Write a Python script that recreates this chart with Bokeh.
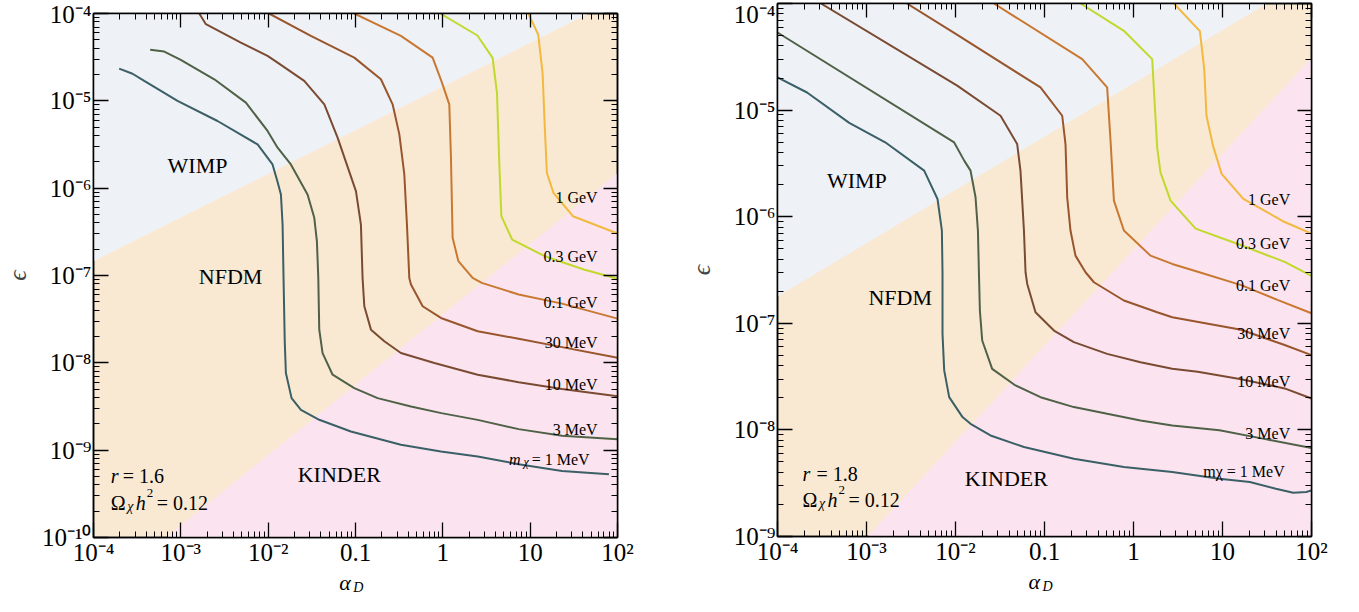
import math
from bokeh.plotting import figure
from bokeh.models import FixedTicker, LogAxis, Label, Range1d, CustomJSTickFormatter
from bokeh.layouts import row, column
from bokeh.embed import file_html
from bokeh.resources import INLINE

FONT = "Liberation Serif"

# ---------------- ticks ----------------
x_ticks = [1e-4, 1e-3, 1e-2, 1e-1, 1.0, 10.0, 100.0]
x_tick_labels = ["10⁻⁴", "10⁻³", "10⁻²", "0.1", "1", "10", "10²"]
yL_ticks = [1e-10, 1e-9, 1e-8, 1e-7, 1e-6, 1e-5, 1e-4]
yL_tick_labels = ["10⁻¹⁰", "10⁻⁹", "10⁻⁸", "10⁻⁷", "10⁻⁶", "10⁻⁵", "10⁻⁴"]
yR_ticks = [1e-9, 1e-8, 1e-7, 1e-6, 1e-5, 1e-4]
yR_tick_labels = ["10⁻⁹", "10⁻⁸", "10⁻⁷", "10⁻⁶", "10⁻⁵", "10⁻⁴"]

mass_labels = ["1 MeV", "3 MeV", "10 MeV", "30 MeV", "0.1 GeV", "0.3 GeV", "1 GeV"]
mass_colors = ["#3b5f66", "#4f6147", "#7a4b32", "#99552c", "#c97831", "#c0d92c", "#f3b83e"]

# region colours
c_wimp, c_nfdm, c_kinder = "#eef1f6", "#f9e9d3", "#fbe4ef"

# ---------------- data (log10 alpha_D, log10 epsilon) ----------------
# r = 1.6 panel
L_1MeV_a = [-3.706, -3.553, -3.419, -3.038, -2.580, -2.121, -1.950, -1.892, -1.854, -1.835, -1.824, -1.810, -1.797, -1.732, -1.625, -1.415, -1.053, -0.480, -0.022, 0.399, 0.868, 1.365, 1.902]
L_1MeV_e = [-4.631, -4.690, -4.772, -5.001, -5.231, -5.499, -5.728, -5.930, -6.072, -6.416, -7.028, -7.762, -8.117, -8.404, -8.538, -8.652, -8.786, -8.939, -9.015, -9.072, -9.161, -9.238, -9.276]
L_3MeV_a = [-3.351, -3.190, -3.006, -2.617, -2.255, -2.007, -1.892, -1.740, -1.549, -1.472, -1.442, -1.426, -1.415, -1.377, -1.262, -1.014, -0.747, -0.365, -0.017, 0.399, 0.868, 1.365, 2.0]
L_3MeV_e = [-4.416, -4.436, -4.527, -4.753, -5.021, -5.345, -5.537, -5.728, -6.072, -6.339, -6.607, -7.028, -7.620, -7.888, -8.136, -8.289, -8.404, -8.499, -8.576, -8.653, -8.759, -8.835, -8.874]
L_10MeV_a = [-2.789, -2.713, -2.313, -2.007, -1.892, -1.587, -1.357, -1.205, -0.995, -0.938, -0.919, -0.899, -0.823, -0.670, -0.480, -0.097, 0.399, 0.868, 1.365, 2.0]
L_10MeV_e = [-4.0, -4.122, -4.333, -4.486, -4.562, -4.772, -5.040, -5.422, -6.034, -6.416, -7.028, -7.352, -7.620, -7.753, -7.888, -8.002, -8.136, -8.222, -8.299, -8.383]
L_30MeV_a = [-1.990, -1.511, -1.014, -0.709, -0.575, -0.498, -0.441, -0.411, -0.384, -0.365, -0.231, -0.022, 0.399, 0.868, 1.365, 2.0]
L_30MeV_e = [-4.0, -4.256, -4.505, -4.753, -5.040, -5.384, -5.843, -6.416, -7.028, -7.104, -7.352, -7.486, -7.639, -7.724, -7.820, -7.943]
L_100MeV_a = [-1.014, -0.480, -0.117, -0.017, 0.074, 0.093, 0.112, 0.178, 0.341, 0.446, 0.868, 1.365, 2.0]
L_100MeV_e = [-4.0, -4.256, -4.505, -4.772, -5.040, -5.651, -6.569, -6.836, -7.028, -7.084, -7.218, -7.322, -7.494]
L_300MeV_a = [-0.030, 0.396, 0.570, 0.620, 0.645, 0.670, 0.794, 1.167, 1.614, 2.0]
L_300MeV_e = [-4.0, -4.252, -4.508, -4.908, -5.672, -6.321, -6.588, -6.779, -6.931, -7.038]
L_1GeV_a = [0.978, 1.092, 1.142, 1.167, 1.191, 1.266, 1.490, 2.0]
L_1GeV_e = [-4.0, -4.240, -4.679, -5.290, -5.824, -6.053, -6.321, -6.519]

# r = 1.8 panel
R_1MeV_a = [-4.0, -3.668, -3.194, -2.790, -2.352, -2.202, -2.153, -2.146, -2.146, -2.127, -2.071, -1.921, -1.831, -1.607, -1.231, -0.670, -0.108, 0.435, 0.966, 1.307, 1.600, 1.795, 1.941, 2.0]
R_1MeV_e = [-4.694, -4.835, -5.120, -5.302, -5.568, -5.834, -6.130, -6.521, -7.099, -7.442, -7.693, -7.880, -7.943, -8.052, -8.161, -8.271, -8.349, -8.396, -8.458, -8.489, -8.552, -8.589, -8.583, -8.567]
R_3MeV_a = [-4.0, -2.015, -1.902, -1.831, -1.775, -1.748, -1.737, -1.726, -1.700, -1.588, -1.326, -1.045, -0.670, -0.296, 0.079, 0.435, 0.966, 1.454, 2.0]
R_3MeV_e = [-4.272, -5.303, -5.474, -5.568, -5.818, -6.130, -6.521, -6.880, -7.161, -7.427, -7.583, -7.693, -7.786, -7.849, -7.911, -7.958, -8.003, -8.082, -8.169]
R_10MeV_a = [-3.512, -1.981, -1.494, -1.307, -1.270, -1.231, -1.213, -1.194, -1.101, -0.894, -0.670, -0.296, 0.079, 0.435, 0.722, 1.210, 1.698, 2.0]
R_10MeV_e = [-4.0, -4.771, -5.053, -5.319, -5.568, -6.130, -6.521, -6.631, -6.896, -7.068, -7.177, -7.287, -7.365, -7.427, -7.455, -7.524, -7.611, -7.705]
R_30MeV_a = [-2.546, -1.993, -1.045, -0.801, -0.764, -0.745, -0.708, -0.652, -0.539, -0.445, -0.108, 0.266, 0.435, 1.210, 1.698, 2.0]
R_30MeV_e = [-4.0, -4.288, -4.787, -5.053, -5.319, -5.818, -6.130, -6.365, -6.521, -6.615, -6.786, -6.896, -6.943, -7.060, -7.204, -7.298]
R_100MeV_a = [-1.569, -0.576, -0.296, -0.258, -0.220, -0.108, 0.191, 0.435, 0.722, 1.210, 1.624, 2.0]
R_100MeV_e = [-4.0, -4.522, -4.787, -5.287, -5.849, -6.130, -6.365, -6.443, -6.517, -6.642, -6.782, -6.906]
R_300MeV_a = [-0.595, -0.108, 0.210, 0.266, 0.303, 0.416, 0.698, 1.210, 1.698, 2.0]
R_300MeV_e = [-4.0, -4.256, -4.522, -5.350, -5.584, -5.849, -6.112, -6.268, -6.424, -6.555]
R_1GeV_a = [0.454, 0.746, 0.795, 0.820, 0.893, 0.990, 1.234, 1.698, 2.0]
R_1GeV_e = [-4.0, -4.259, -4.617, -5.053, -5.333, -5.598, -5.832, -6.050, -6.159]

# region boundaries (log10 alpha_D, log10 epsilon)
L_wimp_a, L_wimp_e = [-4.0, 1.672, -4.0], [-6.836, -4.0, -4.0]
L_kind_a, L_kind_e = [-3.172, 2.0, 2.0], [-10.0, -5.83, -10.0]
R_wimp_a, R_wimp_e = [-4.0, 1.498, -4.0], [-6.749, -4.0, -4.0]
R_kind_a, R_kind_e = [-2.989, 2.0, 2.0], [-9.0, -4.508, -9.0]

L_curves = [(L_1MeV_a, L_1MeV_e), (L_3MeV_a, L_3MeV_e), (L_10MeV_a, L_10MeV_e), (L_30MeV_a, L_30MeV_e),
            (L_100MeV_a, L_100MeV_e), (L_300MeV_a, L_300MeV_e), (L_1GeV_a, L_1GeV_e)]
R_curves = [(R_1MeV_a, R_1MeV_e), (R_3MeV_a, R_3MeV_e), (R_10MeV_a, R_10MeV_e), (R_30MeV_a, R_30MeV_e),
            (R_100MeV_a, R_100MeV_e), (R_300MeV_a, R_300MeV_e), (R_1GeV_a, R_1GeV_e)]


def pw(vals):
    return [10.0 ** v for v in vals]


def decade_minors(k0, k1):
    return [m * 10.0 ** k for k in range(k0, k1) for m in range(2, 10)]


def fmt(tvals, tlabels):
    return CustomJSTickFormatter(args=dict(tv=tvals, tl=tlabels), code="""
        let best = 0, bd = 1e9;
        for (let i = 0; i < tv.length; i++) {
            const d = Math.abs(Math.log10(tick) - Math.log10(tv[i]));
            if (d < bd) { bd = d; best = i; }
        }
        return bd < 0.01 ? tl[best] : "";
    """)


def lab(p, lx, ly, text, size, style="normal", align="left", dx=0, baseline="alphabetic", raw_y=False):
    yv = ly if raw_y else 10.0 ** ly
    p.add_layout(Label(x=10.0 ** lx, y=yv, x_offset=dx, text=text, text_font=FONT,
                       text_font_size=f"{size}px", text_font_style=style, text_align=align,
                       text_baseline=baseline, text_color="black"))


def style_axis(ax, tick_in, minor_in, show_labels, standoff=2):
    ax.axis_line_width = 1.5
    ax.axis_line_color = "black"
    ax.major_tick_in = tick_in
    ax.major_tick_out = 0
    ax.minor_tick_in = minor_in
    ax.minor_tick_out = 0
    ax.major_tick_line_width = 1.3
    ax.minor_tick_line_width = 1.0
    ax.major_tick_line_color = "black"
    ax.minor_tick_line_color = "black"
    ax.major_label_text_font = FONT
    ax.major_label_text_color = "black"
    if show_labels:
        ax.major_label_text_font_size = "25px"
        ax.major_label_standoff = standoff
    else:
        ax.major_label_text_font_size = "0px"
        ax.major_label_standoff = 0


def make_panel(fw, fh, bl, br, bt, bb, ylo, yticks, ylabels, ykmin, curves, wimp, kind, eps_standoff):
    p = figure(frame_width=fw, frame_height=fh, x_axis_type="log", y_axis_type="log",
               x_range=Range1d(1e-4, 1e2), y_range=Range1d(ylo, 1e-4),
               output_backend="svg", toolbar_location=None,
               min_border_left=bl, min_border_right=br, min_border_top=bt, min_border_bottom=bb)
    p.background_fill_color = c_nfdm
    p.border_fill_color = "white"
    p.outline_line_color = "black"
    p.outline_line_width = 1.5
    p.xgrid.visible = False
    p.ygrid.visible = False

    p.xaxis.ticker = FixedTicker(ticks=x_ticks, minor_ticks=decade_minors(-4, 2))
    p.yaxis.ticker = FixedTicker(ticks=yticks, minor_ticks=decade_minors(ykmin, -4))
    p.xaxis.formatter = fmt(x_ticks, x_tick_labels)
    p.yaxis.formatter = fmt(yticks, ylabels)
    style_axis(p.xaxis[0], 15, 6, True, standoff=1)
    style_axis(p.yaxis[0], 15, 6, True, standoff=2)
    p.yaxis.axis_label = "ϵ"
    p.yaxis.axis_label_text_font = FONT
    p.yaxis.axis_label_text_font_size = "26px"
    p.yaxis.axis_label_text_font_style = "italic"
    p.yaxis.axis_label_standoff = eps_standoff

    top = LogAxis(ticker=FixedTicker(ticks=x_ticks, minor_ticks=decade_minors(-4, 2)),
                  formatter=fmt(x_ticks, ["" for _ in x_ticks]))
    right = LogAxis(ticker=FixedTicker(ticks=yticks, minor_ticks=decade_minors(ykmin, -4)),
                    formatter=fmt(yticks, ["" for _ in yticks]))
    style_axis(top, 14, 6, False)
    style_axis(right, 14, 6, False)
    p.add_layout(top, "above")
    p.add_layout(right, "right")

    p.patch(pw(wimp[0]), pw(wimp[1]), fill_color=c_wimp, line_color=None)
    p.patch(pw(kind[0]), pw(kind[1]), fill_color=c_kinder, line_color=None)

    for (a, e), col in zip(curves, mass_colors):
        p.line(pw(a), pw(e), line_color=col, line_width=2)
    return p


def make_strip(p, fw, bl, br, h):
    s = figure(frame_width=fw, frame_height=h, x_axis_type="log", x_range=p.x_range,
               y_range=Range1d(0, h), output_backend="svg", toolbar_location=None,
               x_axis_location=None, y_axis_location=None,
               min_border_left=bl, min_border_right=br, min_border_top=0, min_border_bottom=0)
    s.outline_line_color = None
    s.background_fill_color = "white"
    s.border_fill_color = "white"
    s.xgrid.visible = False
    s.ygrid.visible = False
    return s


STRIP_H = 30

# ---------------- left panel (r = 1.6) ----------------
pL = make_panel(524, 524, 88, 60, 13, 29, 1e-10, yL_ticks, yL_tick_labels, -10,
                L_curves, (L_wimp_a, L_wimp_e), (L_kind_a, L_kind_e), 7)
lab(pL, -2.809, -5.744, "WIMP", 22, align="center")
lab(pL, -2.430, -7.016, "NFDM", 22, align="center")
lab(pL, -1.186, -9.282, "KINDER", 22, align="center")
lab(pL, 1.773, -6.102, mass_labels[6], 16, align="right")
lab(pL, 1.773, -6.781, mass_labels[5], 16, align="right")
lab(pL, 1.773, -7.311, mass_labels[4], 16, align="right")
lab(pL, 1.773, -7.766, mass_labels[3], 16, align="right")
lab(pL, 1.773, -8.244, mass_labels[2], 16, align="right")
lab(pL, 1.773, -8.760, mass_labels[1], 16, align="right")
lab(pL, 1.727, -9.107, " = " + mass_labels[0], 16, align="right")
lab(pL, 1.727, -9.141, "χ", 12, style="italic", align="right", dx=-65)
lab(pL, 1.727, -9.107, "m", 16, style="italic", align="right", dx=-73)
lab(pL, -3.802, -9.295, "r", 20, style="italic")
lab(pL, -3.802, -9.295, "= 1.6", 20, dx=12)
lab(pL, -3.802, -9.608, "Ω", 20)
lab(pL, -3.802, -9.642, "χ", 14, style="italic", dx=16.5)
lab(pL, -3.802, -9.608, "h", 20, style="italic", dx=25)
lab(pL, -3.802, -9.493, "2", 13, dx=36)
lab(pL, -3.802, -9.608, "= 0.12", 20, dx=46)

sL = make_strip(pL, 524, 88, 60, STRIP_H)
lab(sL, -1.186, 16, "α", 22, style="italic", raw_y=True, baseline="middle")
lab(sL, -1.186, 11, "D", 14, style="italic", raw_y=True, dx=14, baseline="middle")

# ---------------- right panel (r = 1.8) ----------------
pR = make_panel(534, 533, 100, 25, 3, 30, 1e-9, yR_ticks, yR_tick_labels, -9,
                R_curves, (R_wimp_a, R_wimp_e), (R_kind_a, R_kind_e), 15)
lab(pR, -3.108, -5.659, "WIMP", 22, align="center")
lab(pR, -2.621, -6.755, "NFDM", 22, align="center")
lab(pR, -1.428, -8.455, "KINDER", 22, align="center")
lab(pR, 1.761, -5.835, mass_labels[6], 16, align="right")
lab(pR, 1.761, -6.248, mass_labels[5], 16, align="right")
lab(pR, 1.761, -6.645, mass_labels[4], 16, align="right")
lab(pR, 1.761, -7.091, mass_labels[3], 16, align="right")
lab(pR, 1.761, -7.542, mass_labels[2], 16, align="right")
lab(pR, 1.761, -8.037, mass_labels[1], 16, align="right")
lab(pR, 1.699, -8.389, "mχ = " + mass_labels[0], 16, align="right")
lab(pR, -3.719, -8.411, "r", 20, style="italic")
lab(pR, -3.719, -8.411, "= 1.8", 20, dx=14)
lab(pR, -3.719, -8.661, "Ω", 20)
lab(pR, -3.719, -8.689, "χ", 14, style="italic", dx=16.5)
lab(pR, -3.719, -8.661, "h", 20, style="italic", dx=25)
lab(pR, -3.719, -8.564, "2", 13, dx=36)
lab(pR, -3.719, -8.661, "= 0.12", 20, dx=46)

sR = make_strip(pR, 534, 100, 25, STRIP_H)
lab(sR, -1.180, 16, "α", 22, style="italic", raw_y=True, baseline="middle")
lab(sR, -1.180, 11, "D", 14, style="italic", raw_y=True, dx=14, baseline="middle")

layout = row(column(pL, sL), column(pR, sR))
open("out.html", "w").write(file_html(layout, INLINE))
